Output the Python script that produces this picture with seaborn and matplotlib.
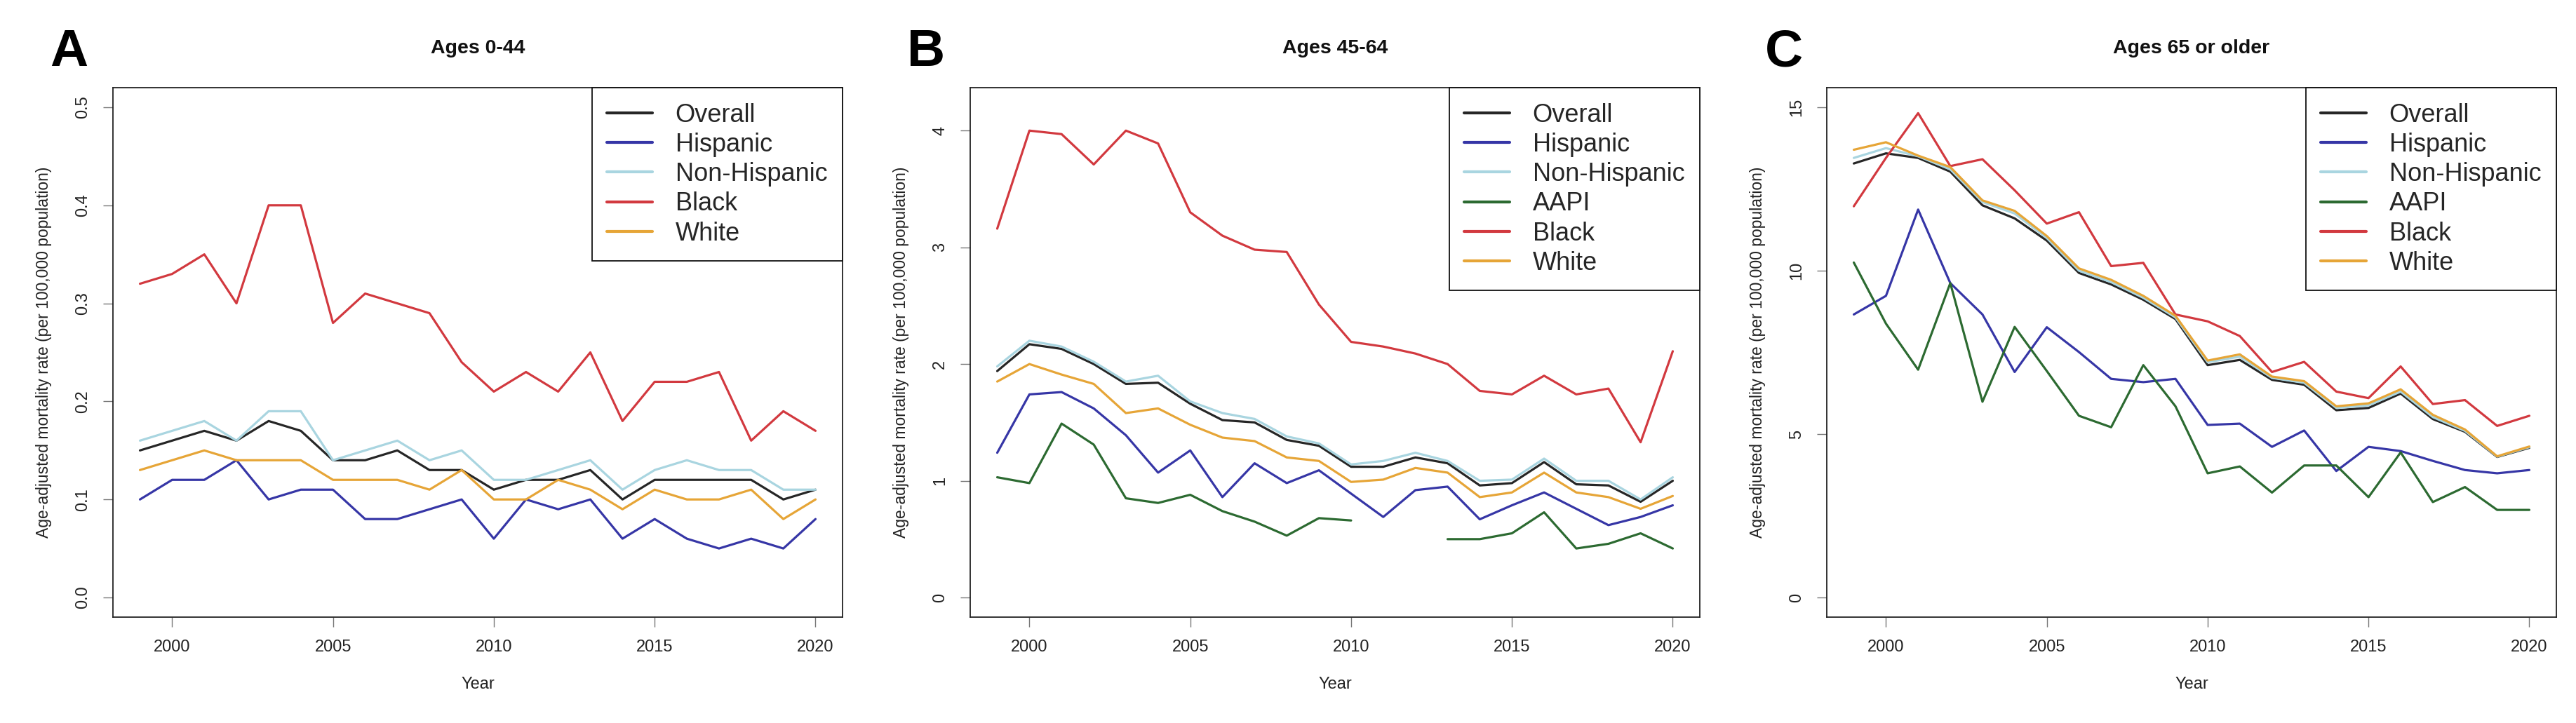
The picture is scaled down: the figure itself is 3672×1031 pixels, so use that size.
import numpy as np
import pandas as pd
import matplotlib
matplotlib.use("Agg")
import matplotlib.pyplot as plt
import seaborn as sns

# ---------------- data ----------------
years = list(range(1999, 2021))

groups_a = ["Overall", "Hispanic", "Non-Hispanic", "Black", "White"]
groups_bc = ["Overall", "Hispanic", "Non-Hispanic", "AAPI", "Black", "White"]

a_overall = [0.15, 0.16, 0.17, 0.16, 0.18, 0.17, 0.14, 0.14, 0.15, 0.13, 0.13, 0.11, 0.12, 0.12, 0.13, 0.10, 0.12, 0.12, 0.12, 0.12, 0.10, 0.11]
a_hispanic = [0.10, 0.12, 0.12, 0.14, 0.10, 0.11, 0.11, 0.08, 0.08, 0.09, 0.10, 0.06, 0.10, 0.09, 0.10, 0.06, 0.08, 0.06, 0.05, 0.06, 0.05, 0.08]
a_nonhisp = [0.16, 0.17, 0.18, 0.16, 0.19, 0.19, 0.14, 0.15, 0.16, 0.14, 0.15, 0.12, 0.12, 0.13, 0.14, 0.11, 0.13, 0.14, 0.13, 0.13, 0.11, 0.11]
a_black = [0.32, 0.33, 0.35, 0.30, 0.40, 0.40, 0.28, 0.31, 0.30, 0.29, 0.24, 0.21, 0.23, 0.21, 0.25, 0.18, 0.22, 0.22, 0.23, 0.16, 0.19, 0.17]
a_white = [0.13, 0.14, 0.15, 0.14, 0.14, 0.14, 0.12, 0.12, 0.12, 0.11, 0.13, 0.10, 0.10, 0.12, 0.11, 0.09, 0.11, 0.10, 0.10, 0.11, 0.08, 0.10]

b_overall = [1.94, 2.17, 2.13, 2.00, 1.83, 1.84, 1.66, 1.52, 1.50, 1.35, 1.30, 1.12, 1.12, 1.20, 1.15, 0.96, 0.98, 1.16, 0.97, 0.96, 0.82, 1.00]
b_hispanic = [1.24, 1.74, 1.76, 1.62, 1.39, 1.07, 1.26, 0.86, 1.15, 0.98, 1.09, 0.89, 0.69, 0.92, 0.95, 0.67, 0.79, 0.90, 0.76, 0.62, 0.69, 0.79]
b_nonhisp = [1.98, 2.20, 2.15, 2.02, 1.85, 1.90, 1.68, 1.58, 1.53, 1.38, 1.32, 1.14, 1.17, 1.24, 1.17, 1.00, 1.01, 1.19, 1.00, 1.00, 0.84, 1.03]
b_aapi = [1.03, 0.98, 1.49, 1.31, 0.85, 0.81, 0.88, 0.74, 0.65, 0.53, 0.68, 0.66, np.nan, np.nan, 0.50, 0.50, 0.55, 0.73, 0.42, 0.46, 0.55, 0.42]
b_black = [3.16, 4.00, 3.97, 3.71, 4.00, 3.89, 3.30, 3.10, 2.98, 2.96, 2.51, 2.19, 2.15, 2.09, 2.00, 1.77, 1.74, 1.90, 1.74, 1.79, 1.33, 2.11]
b_white = [1.85, 2.00, 1.91, 1.83, 1.58, 1.62, 1.48, 1.37, 1.34, 1.20, 1.17, 0.99, 1.01, 1.11, 1.07, 0.86, 0.90, 1.07, 0.90, 0.86, 0.76, 0.87]

c_overall = [13.28, 13.59, 13.45, 13.03, 12.00, 11.60, 10.92, 9.93, 9.58, 9.11, 8.52, 7.11, 7.27, 6.66, 6.51, 5.73, 5.80, 6.24, 5.46, 5.07, 4.30, 4.58]
c_hispanic = [8.66, 9.23, 11.87, 9.62, 8.66, 6.90, 8.27, 7.51, 6.69, 6.59, 6.69, 5.28, 5.32, 4.61, 5.11, 3.87, 4.61, 4.48, 4.18, 3.90, 3.80, 3.90]
c_nonhisp = [13.45, 13.75, 13.50, 13.10, 12.10, 11.75, 11.00, 10.00, 9.65, 9.17, 8.57, 7.20, 7.37, 6.72, 6.57, 5.80, 5.88, 6.30, 5.52, 5.10, 4.31, 4.60]
c_aapi = [10.25, 8.38, 6.97, 9.62, 5.99, 8.28, 6.93, 5.56, 5.21, 7.11, 5.85, 3.80, 4.01, 3.21, 4.04, 4.04, 3.07, 4.44, 2.92, 3.38, 2.68, 2.68]
c_black = [11.97, 13.45, 14.82, 13.20, 13.41, 12.46, 11.44, 11.79, 10.14, 10.24, 8.66, 8.45, 8.00, 6.90, 7.21, 6.30, 6.10, 7.07, 5.92, 6.04, 5.25, 5.56]
c_white = [13.70, 13.93, 13.52, 13.17, 12.15, 11.83, 11.06, 10.07, 9.72, 9.23, 8.62, 7.25, 7.44, 6.76, 6.62, 5.85, 5.94, 6.37, 5.59, 5.14, 4.32, 4.62]

titles = ["Ages 0-44", "Ages 45-64", "Ages 65 or older"]
letters = ["A", "B", "C"]
ytick_a = [0.0, 0.1, 0.2, 0.3, 0.4, 0.5]
ytick_b = [0, 1, 2, 3, 4]
ytick_c = [0, 5, 10, 15]
ylabels_a = ["0.0", "0.1", "0.2", "0.3", "0.4", "0.5"]
ylabels_b = ["0", "1", "2", "3", "4"]
ylabels_c = ["0", "5", "10", "15"]
xticks = [2000, 2005, 2010, 2015, 2020]

palette = {
    "Overall": "#262626",
    "Hispanic": "#3636a6",
    "Non-Hispanic": "#a9d5e0",
    "AAPI": "#2c6a31",
    "Black": "#d2393f",
    "White": "#e6a537",
}


def long_frame(groups, series):
    rows = []
    for g, vals in zip(groups, series):
        seg = 0
        prev_nan = False
        for yr, v in zip(years, vals):
            if v is None or (isinstance(v, float) and np.isnan(v)):
                prev_nan = True
                continue
            if prev_nan:
                seg += 1
                prev_nan = False
            rows.append({"Year": yr, "rate": v, "group": g, "seg": f"{g}_{seg}"})
    return pd.DataFrame(rows)


df_a = long_frame(groups_a, [a_overall, a_hispanic, a_nonhisp, a_black, a_white])
df_b = long_frame(groups_bc, [b_overall, b_hispanic, b_nonhisp, b_aapi, b_black, b_white])
df_c = long_frame(groups_bc, [c_overall, c_hispanic, c_nonhisp, c_aapi, c_black, c_white])

# ---------------- style ----------------
sns.set_theme(style="white")
plt.rcParams["font.family"] = ["Liberation Sans", "DejaVu Sans"]

W, H = 3672, 1031
fig = plt.figure(figsize=(W / 100, H / 100), dpi=100)

ax_left_px = [161, 1383, 2604]
ax_w_px = 1040
ax_top_px, ax_bot_px = 125, 880

panels = [
    (df_a, groups_a, ytick_a, ylabels_a, (0.0, 0.5)),
    (df_b, groups_bc, ytick_b, ylabels_b, (0.0, 4.2)),
    (df_c, groups_bc, ytick_c, ylabels_c, (0.0, 15.0)),
]
letter_x_px = [98, 1320, 2543]

for i, (df, groups, yt, ytl, (ylo, yhi)) in enumerate(panels):
    ax = fig.add_axes([ax_left_px[i] / W, 1 - ax_bot_px / H, ax_w_px / W, (ax_bot_px - ax_top_px) / H])
    sns.lineplot(data=df, x="Year", y="rate", hue="group", hue_order=groups,
                 units="seg", estimator=None, palette=palette, linewidth=2.3,
                 ax=ax, legend=True)
    ext = 0.04 * (yhi - ylo)
    ax.set_ylim(ylo - ext, yhi + ext)
    ax.set_xlim(1999 - 0.84, 2020 + 0.84)
    ax.set_xticks(xticks)
    ax.set_xticklabels([str(x) for x in xticks])
    ax.set_yticks(yt)
    ax.set_yticklabels(ytl, rotation=90, va="center")
    ax.tick_params(axis="both", direction="out", length=10, width=1.0, color="#777777",
                   labelsize=17, labelcolor="#222222", pad=13, left=True, bottom=True)
    for s in ax.spines.values():
        s.set_visible(True)
        s.set_color("#222222")
        s.set_linewidth(1.3)
    ax.set_xlabel("Year", fontsize=17, color="#222222")
    ax.xaxis.set_label_coords(0.5, -0.113)
    ax.set_ylabel("Age-adjusted mortality rate (per 100,000 population)", fontsize=16.5, color="#222222")
    ax.yaxis.set_label_coords(-0.084, 0.5)
    ax.text(0.5, 1.074, titles[i], transform=ax.transAxes, ha="center", va="center",
            fontsize=20.5, fontweight="bold", color="#111111")
    fig.text(letter_x_px[i] / W, 1 - 75 / H, letters[i], ha="center", va="center",
             fontsize=54, fontweight="bold", color="black")

    handles, labels = ax.get_legend_handles_labels()
    leg = ax.legend(handles, labels, loc="upper right", bbox_to_anchor=(1.0, 1.0),
                    borderaxespad=0.0, frameon=True, fancybox=False, fontsize=26,
                    handlelength=1.8, handletextpad=0.9, labelspacing=0.2,
                    borderpad=0.6)
    fr = leg.get_frame()
    fr.set_edgecolor("#111111")
    fr.set_linewidth(1.3)
    fr.set_facecolor("white")
    fr.set_alpha(1.0)
    for line in leg.get_lines():
        line.set_linewidth(3.0)

fig.savefig("out.png", dpi=100, facecolor="white")
